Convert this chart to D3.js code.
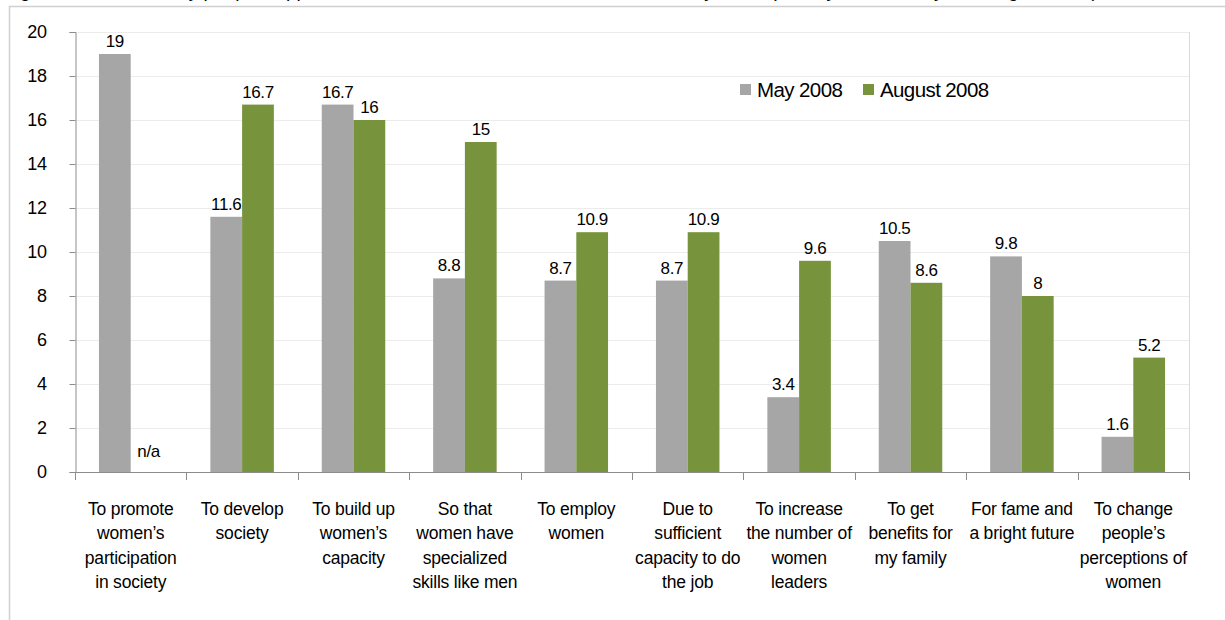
<!DOCTYPE html>
<html>
<head>
<meta charset="utf-8">
<script src="https://cdn.jsdelivr.net/npm/d3@7"></script>
<style>
  html, body { margin: 0; padding: 0; background: #fff; }
  svg { display: block; font-family: "Liberation Sans", Arial, sans-serif; }
</style>
</head>
<body>
<svg id="chart" width="1225" height="620"></svg>
<script>
// Reasons for supporting women candidates, two survey rounds
const categories = [
  ["To promote", "women\u2019s", "participation", "in society"],
  ["To develop", "society"],
  ["To build up", "women\u2019s", "capacity"],
  ["So that", "women have", "specialized", "skills like men"],
  ["To employ", "women"],
  ["Due to", "sufficient", "capacity to do", "the job"],
  ["To increase", "the number of", "women", "leaders"],
  ["To get", "benefits for", "my family"],
  ["For fame and", "a bright future"],
  ["To change", "people\u2019s", "perceptions of", "women"]
];
const seriesNames = ["May 2008", "August 2008"];
const may2008 = [19, 11.6, 16.7, 8.8, 8.7, 8.7, 3.4, 10.5, 9.8, 1.6];
const aug2008 = [null, 16.7, 16, 15, 10.9, 10.9, 9.6, 8.6, 8, 5.2];
const yTicks = [0, 2, 4, 6, 8, 10, 12, 14, 16, 18, 20];
const colors = ["#a6a6a6", "#77933c"];

const svg = d3.select("#chart");

// Outer frame and the caption line running off the top edge
svg.append("text")
  .attr("x", 4).attr("y", -3)
  .attr("font-size", 19).attr("fill", "#000")
  .text("Figure 3: Reasons why people support women candidates for the National Assembly, 2008 (Survey results, May and August 2008)");
svg.append("path")
  .attr("d", "M9.5,620 V6.5 H1225")
  .attr("fill", "none").attr("stroke", "#d0d0d0").attr("stroke-width", 1.5);

const plotLeft = 75, plotRight = 1189, plotTop = 32, plotBottom = 472;

const x = d3.scaleBand().domain(d3.range(categories.length)).range([plotLeft, plotRight]).padding(0);
const y = d3.scaleLinear().domain([0, 20]).range([plotBottom, plotTop]);

const bw = x.bandwidth();
const barW = bw * 0.285;
const off = bw * 0.215;

// Gridlines
svg.append("g").selectAll("line").data(yTicks.filter(d => d > 0)).join("line")
  .attr("x1", plotLeft).attr("x2", plotRight)
  .attr("y1", d => Math.round(y(d)) + 0.5).attr("y2", d => Math.round(y(d)) + 0.5)
  .attr("stroke", "#ececec").attr("stroke-width", 1);

// Right border of plot area
svg.append("line")
  .attr("x1", plotRight + 0.5).attr("x2", plotRight + 0.5)
  .attr("y1", plotTop).attr("y2", plotBottom)
  .attr("stroke", "#d9d9d9");

// Bars
const series = [may2008, aug2008];
series.forEach((vals, si) => {
  svg.append("g").selectAll("rect")
    .data(vals.map((v, i) => ({ v, i })).filter(d => d.v !== null))
    .join("rect")
    .attr("x", d => x(d.i) + off + si * barW)
    .attr("width", barW)
    .attr("y", d => y(d.v))
    .attr("height", d => y(0) - y(d.v))
    .attr("fill", colors[si]);
});

// Value labels
series.forEach((vals, si) => {
  svg.append("g").selectAll("text")
    .data(vals.map((v, i) => ({ v, i })))
    .join("text")
    .attr("x", d => x(d.i) + off + si * barW + barW / 2 + (d.v === null ? 2 : 0))
    .attr("y", d => d.v === null ? y(0) - 15 : y(d.v) - 7)
    .attr("text-anchor", "middle")
    .attr("font-size", 17)
    .attr("letter-spacing", -0.4)
    .attr("fill", "#000")
    .text(d => d.v === null ? "n/a" : d.v);
});

// Y axis
const yAxis = d3.axisLeft(y).tickValues(yTicks).tickSize(6).tickPadding(23).tickFormat(d3.format("d"));
const gy = svg.append("g").attr("transform", `translate(${plotLeft + 0.5},0)`).call(yAxis);
gy.select(".domain").attr("stroke", "#8c8c8c");
gy.selectAll(".tick line").attr("stroke", "#8c8c8c");
gy.selectAll(".tick text")
  .attr("font-size", 18).attr("fill", "#000")
  .attr("font-family", "Liberation Sans, Arial, sans-serif")
  .attr("letter-spacing", -0.4);

// X axis baseline with boundary ticks
const bounds = d3.range(categories.length + 1).map(i => plotLeft + i * bw);
svg.append("line")
  .attr("x1", plotLeft).attr("x2", plotRight)
  .attr("y1", plotBottom + 0.5).attr("y2", plotBottom + 0.5)
  .attr("stroke", "#8c8c8c");
svg.append("g").selectAll("line").data(bounds).join("line")
  .attr("x1", d => Math.round(d) + 0.5).attr("x2", d => Math.round(d) + 0.5)
  .attr("y1", plotBottom).attr("y2", plotBottom + 8)
  .attr("stroke", "#8c8c8c");

// Category labels
const cat = svg.append("g").selectAll("text").data(categories).join("text")
  .attr("text-anchor", "middle")
  .attr("font-size", 17.5)
  .attr("letter-spacing", -0.2)
  .attr("fill", "#000")
  .attr("transform", (d, i) => `translate(${x(i) + bw / 2},515)`);
cat.selectAll("tspan").data(d => d).join("tspan")
  .attr("x", 0)
  .attr("dy", (d, i) => i === 0 ? 0 : 24.3)
  .text(d => d);

// Legend
const legend = svg.append("g").attr("transform", "translate(740,84)");
const items = [{ name: seriesNames[0], x: 0 }, { name: seriesNames[1], x: 123 }];
items.forEach((it, i) => {
  legend.append("rect").attr("x", it.x).attr("y", 0).attr("width", 11).attr("height", 11).attr("fill", colors[i]);
  legend.append("text").attr("x", it.x + 17).attr("y", 13)
    .attr("font-size", 20.5).attr("letter-spacing", -0.6).attr("fill", "#000")
    .text(it.name);
});
</script>
</body>
</html>
